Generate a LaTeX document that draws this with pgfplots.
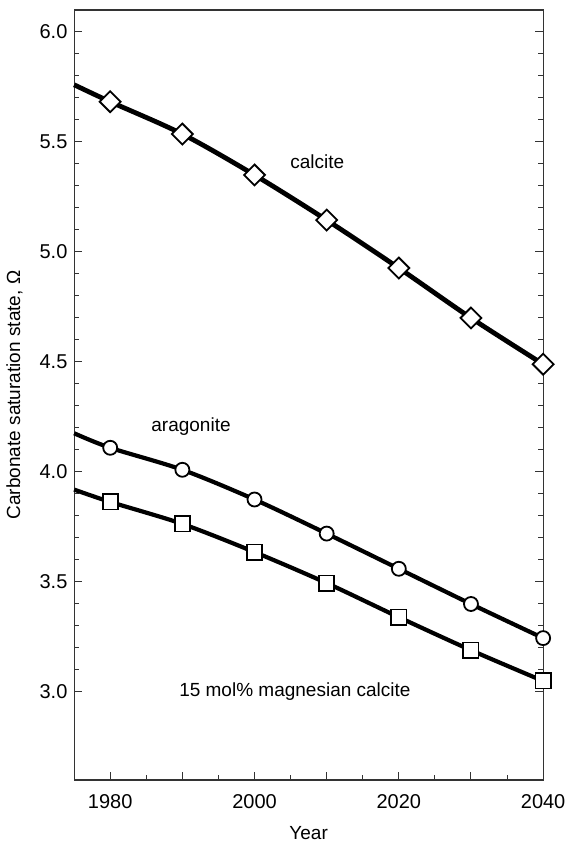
\documentclass[border=0pt]{standalone}
\usepackage{fontspec}
\setmainfont{Liberation Sans}
\usepackage{pgfplots}
\pgfplotsset{compat=1.18}
\begin{document}
\fontsize{9.5}{11.5}\selectfont
\begin{tikzpicture}
\begin{axis}[
  scale only axis,
  width=234.5pt, height=385pt,
  xmin=1975, xmax=2040, ymin=2.6, ymax=6.1,
  xtick={1980,1990,...,2040},
  xticklabels={1980,,2000,,2020,,2040},
  minor x tick num=1,
  ytick={3.0,3.5,4.0,4.5,5.0,5.5,6.0},
  minor y tick num=4,
  yticklabel style={/pgf/number format/.cd, fixed, fixed zerofill, precision=1},
  /pgf/number format/assume math mode=true,
  ticklabel style={font=\fontsize{10}{12}\selectfont},
  xticklabel style={/pgf/number format/1000 sep={}, yshift=-4pt, inner xsep=0pt},
  tick align=inside,
  xtick pos=bottom,
  ytick pos=both,
  major tick length=4pt,
  minor tick length=2.5pt,
  axis line style={draw=black!80, line width=0.6pt},
  every tick/.style={black!80, line width=0.5pt},
  xlabel={Year},
  ylabel={Carbonate saturation state, Ω},
  xlabel style={at={(axis description cs:0.5,0)}, anchor=center, yshift=-26.5pt, inner sep=0pt},
  ylabel style={yshift=2pt},
  clip=false,
]
% calcite
\addplot[black, line width=2.4pt, smooth, mark=square*, mark size=3.7pt,
  mark options={fill=white, line width=0.9pt, solid, rotate=45}, mark indices={2,3,4,5,6,7,8}]
  coordinates {(1975,5.76) (1980,5.683) (1990,5.536) (2000,5.35) (2010,5.145) (2020,4.927) (2030,4.70) (2040,4.49)};
% aragonite
\addplot[black, line width=2.1pt, smooth, mark=*, mark size=3.5pt,
  mark options={fill=white, line width=0.9pt, solid}, mark indices={2,3,4,5,6,7,8}]
  coordinates {(1975,4.176) (1980,4.11) (1990,4.01) (2000,3.875) (2010,3.72) (2020,3.56) (2030,3.40) (2040,3.245)};
% 15 mol% magnesian calcite
\addplot[black, line width=2.1pt, smooth, mark=square*, mark size=3.8pt,
  mark options={fill=white, line width=0.9pt, solid}, mark indices={2,3,4,5,6,7,8}]
  coordinates {(1975,3.92) (1980,3.864) (1990,3.764) (2000,3.636) (2010,3.495) (2020,3.34) (2030,3.19) (2040,3.05)};
\node at (axis cs:2008.7,5.41) {calcite};
\node at (axis cs:1991.2,4.205) {aragonite};
\node at (axis cs:2005.6,3.0) {15 mol\% magnesian calcite};
\end{axis}
\path ([xshift=-36.5pt,yshift=-31pt]current axis.south west) rectangle ([xshift=11.5pt,yshift=5pt]current axis.north east);
\end{tikzpicture}
\end{document}
